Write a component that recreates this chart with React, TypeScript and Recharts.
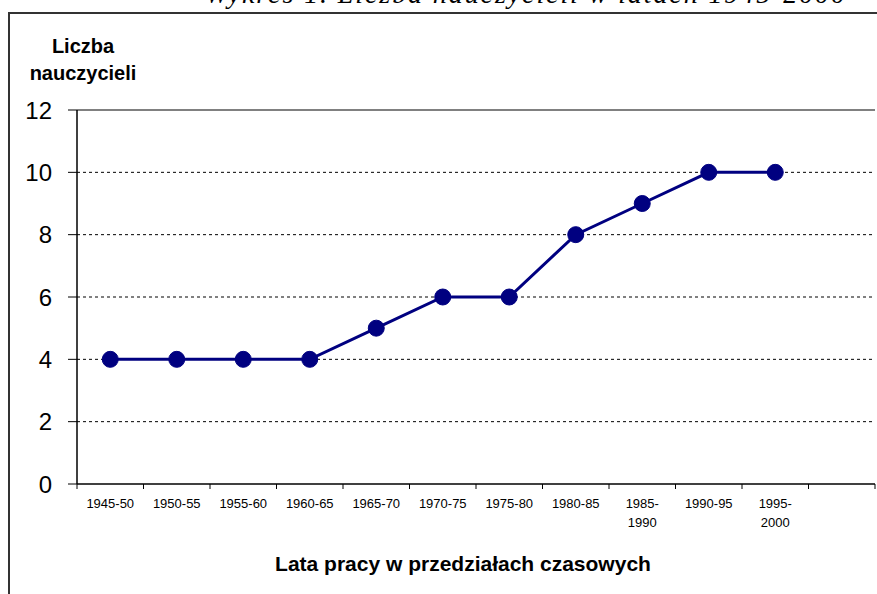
import React from 'react';
import { LineChart, Line, XAxis, YAxis, CartesianGrid, ReferenceLine } from 'recharts';

// Przedziały czasowe (ostatnia kategoria pusta, jak w oryginale)
const periods = [
  '1945-50', '1950-55', '1955-60', '1960-65', '1965-70', '1970-75',
  '1975-80', '1980-85', '1985-1990', '1990-95', '1995-2000', '',
];
const teachers: (number | null)[] = [4, 4, 4, 4, 5, 6, 6, 8, 9, 10, 10, null];
const yTicks = [0, 2, 4, 6, 8, 10, 12];
const gridValues = [2, 4, 6, 8, 10];

const data = periods.map((period, i) => ({ period, teachers: teachers[i] }));

const W = 877;
const H = 594;
const PLOT_LEFT = 77;
const PLOT_RIGHT = 875;
const PLOT_TOP = 110;
const PLOT_BOTTOM = 484;
const BAND = (PLOT_RIGHT - PLOT_LEFT) / periods.length;
const FONT = 'Arial, "Liberation Sans", sans-serif';
const NAVY = '#000080';

const PeriodTick = (props: any) => {
  const { x, y, payload, index } = props;
  const label: string = payload.value ?? '';
  const lines = label.length > 7 ? [label.slice(0, 5), label.slice(5)] : [label];
  return (
    <g>
      <line x1={x - BAND / 2} x2={x - BAND / 2} y1={y} y2={y + 5} stroke="#000" />
      {index === periods.length - 1 && (
        <line x1={x + BAND / 2} x2={x + BAND / 2} y1={y} y2={y + 5} stroke="#000" />
      )}
      <text x={x} y={y + 24} textAnchor="middle" fontSize={13} fill="#000" fontFamily={FONT}>
        {lines.map((l, i) => (
          <tspan key={i} x={x} dy={i === 0 ? 0 : 19}>
            {l}
          </tspan>
        ))}
      </text>
    </g>
  );
};

export default function App() {
  return (
    <div style={{ position: 'absolute', left: 0, top: 0, width: W, height: H, overflow: 'hidden', background: '#fff' }}>
      {/* tytuł nad ramką, w oryginale widoczny tylko dół liter */}
      <svg width={W} height={14} style={{ position: 'absolute', left: 0, top: 0 }}>
        <text
          x={205}
          y={3}
          textLength={640}
          lengthAdjust="spacing"
          fontFamily='"Liberation Serif", "Times New Roman", serif'
          fontStyle="italic"
          fontSize={28}
          fill="#000"
        >
          Wykres 1. Liczba nauczycieli w latach 1945-2000
        </text>
      </svg>
      {/* ramka wykresu */}
      <div style={{ position: 'absolute', left: 8, top: 12, width: W, height: H, borderLeft: '2px solid #333', borderTop: '2px solid #333' }} />

      <div style={{ position: 'absolute', left: 0, top: 0 }}>
        <LineChart width={W} height={H} data={data} margin={{ top: PLOT_TOP, right: W - PLOT_RIGHT, bottom: 0, left: 0 }}>
          <CartesianGrid horizontal vertical={false} horizontalValues={gridValues} stroke="#000" strokeDasharray="3 3" />
          <ReferenceLine y={12} stroke="#808080" strokeWidth={2} />
          <XAxis
            dataKey="period"
            scale="band"
            interval={0}
            height={H - PLOT_BOTTOM}
            tickLine={false}
            tickSize={0}
            tickMargin={0}
            axisLine={{ stroke: '#000', strokeWidth: 1.5 }}
            tick={<PeriodTick />}
          />
          <YAxis
            width={PLOT_LEFT}
            domain={[0, 12]}
            ticks={yTicks}
            interval={0}
            tickSize={9}
            tickMargin={16}
            axisLine={{ stroke: '#000', strokeWidth: 1.5 }}
            tickLine={{ stroke: '#000' }}
            tick={{ fontSize: 24, fill: '#000', fontFamily: FONT }}
          />
          <YAxis
            yAxisId="frame"
            orientation="right"
            width={0}
            tick={false}
            tickLine={false}
            axisLine={{ stroke: '#808080', strokeWidth: 2 }}
          />
          <Line
            dataKey="teachers"
            stroke={NAVY}
            strokeWidth={3}
            dot={{ r: 8, fill: NAVY, stroke: NAVY, strokeWidth: 1 }}
            activeDot={false}
            isAnimationActive={false}
          />
        </LineChart>
      </div>

      <div
        style={{
          position: 'absolute', left: 23, top: 33, width: 120, textAlign: 'center',
          fontFamily: FONT, fontWeight: 'bold', fontSize: 20, lineHeight: '27px', color: '#000',
        }}
      >
        Liczba
        <br />
        nauczycieli
      </div>
      <div
        style={{
          position: 'absolute', left: 263, top: 551, width: 400, textAlign: 'center',
          fontFamily: FONT, fontWeight: 'bold', fontSize: 21, lineHeight: '26px', color: '#000',
          whiteSpace: 'nowrap',
        }}
      >
        Lata pracy w przedziałach czasowych
      </div>
    </div>
  );
}
